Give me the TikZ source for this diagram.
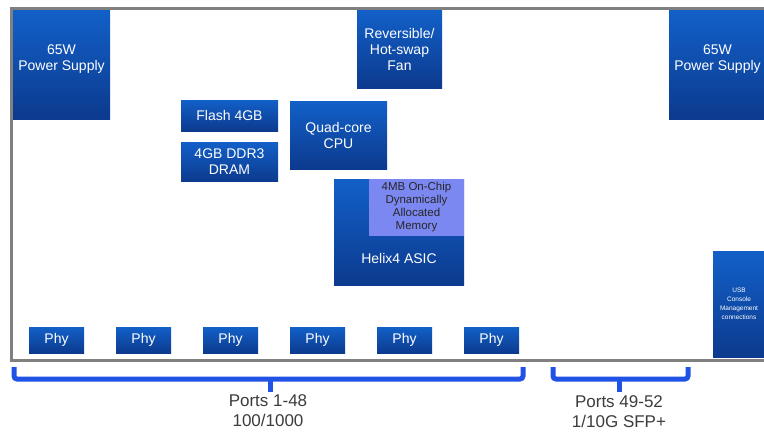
\documentclass[tikz,border=0pt]{standalone}
\usepackage{fontspec}
\setmainfont{Liberation Sans}
\usetikzlibrary{calc,positioning}

\definecolor{cBoxTop}{RGB}{18,96,200}
\definecolor{cBoxBot}{RGB}{12,58,142}
\definecolor{cMem}{RGB}{124,136,242}
\definecolor{cBrace}{RGB}{32,82,230}
\definecolor{cFrame}{RGB}{128,128,128}
\definecolor{cTxt}{RGB}{60,60,60}

\tikzset{
  blkbox/.style={draw=none, top color=cBoxTop, bottom color=cBoxBot, text=white,
    font=\fontsize{14}{16}\selectfont, align=center, inner sep=0pt},
  phybox/.style={blkbox, minimum width=55pt, minimum height=26pt},
  bracepath/.style={draw=cBrace, line width=5pt, rounded corners=3pt},
  portlbl/.style={text=cTxt, font=\fontsize{17}{20}\selectfont, align=center}
}

\begin{document}
\begin{tikzpicture}[x=1pt,y=-1pt]
    \useasboundingbox (0,0) rectangle (764,432);

    % frame of the switch
    \draw[cFrame, line width=3pt] (11,8) rectangle (775,360);

    \node[blkbox, minimum width=97pt, minimum height=109pt, text depth=13pt] (nPsL) at (61.5,64.5) {65W\\Power Supply};
    \node[blkbox, minimum width=97pt, minimum height=109pt, text depth=13pt] (nPsR) at (717.5,64.5) {65W\\Power Supply};
    \node[blkbox, minimum width=85pt, minimum height=78pt] (nFan) at (399.5,49) {Reversible/\\Hot-swap\\Fan};
    \node[blkbox, minimum width=97pt, minimum height=31pt] (nFlash) at (229.5,115.5) {Flash 4GB};
    \node[blkbox, minimum width=97pt, minimum height=39pt] (nDram) at (229.5,161.5) {4GB DDR3\\DRAM};
    \node[blkbox, minimum width=97pt, minimum height=68pt] (nCpu) at (338.5,135) {Quad-core\\CPU};

    % ASIC with on-chip memory
    \node[blkbox, minimum width=130pt, minimum height=106pt] (nAsic) at (399,232) {};
    \node[text=white, font=\fontsize{14}{16}\selectfont] (nAsicTxt) at (399,258) {Helix4 ASIC};
    \node[draw=none, fill=cMem, minimum width=95pt, minimum height=57pt, inner sep=0pt,
      align=center, text=black!85, font=\fontsize{11.5}{13}\selectfont] (nMem) at (416.5,207.5)
      {4MB On-Chip\\Dynamically\\Allocated\\Memory};

    \node[blkbox, minimum width=52pt, minimum height=106pt,
      font=\fontsize{6.5}{9}\selectfont] (nUsb) at (739,304) {USB\\Console\\Management\\connections};

    \foreach \i in {0,...,5}
    {
        \node[phybox] (nPhy\i) at (56.5+87*\i,340) {Phy};
    };

    % braces under the ports
    \coordinate (cBrA1) at (14,367);
    \coordinate (cBrA2) at (523,367);
    \coordinate (cBrAMid) at (270,379);
    \coordinate (cBrB1) at (553,367);
    \coordinate (cBrB2) at (688,367);
    \coordinate (cBrBMid) at (619,379);

    \draw[bracepath] (cBrA1) -- (cBrA1 |- cBrAMid) -- (cBrA2 |- cBrAMid) -- (cBrA2);
    \draw[bracepath] (cBrAMid) -- ++(0,13);
    \draw[bracepath] (cBrB1) -- (cBrB1 |- cBrBMid) -- (cBrB2 |- cBrBMid) -- (cBrB2);
    \draw[bracepath] (cBrBMid) -- ++(0,13);

    \node[portlbl] (nPortsA) at (268,411) {Ports 1-48\\100/1000};
    \node[portlbl] (nPortsB) at (619,412) {Ports 49-52\\1/10G SFP+};

\end{tikzpicture}
\end{document}
